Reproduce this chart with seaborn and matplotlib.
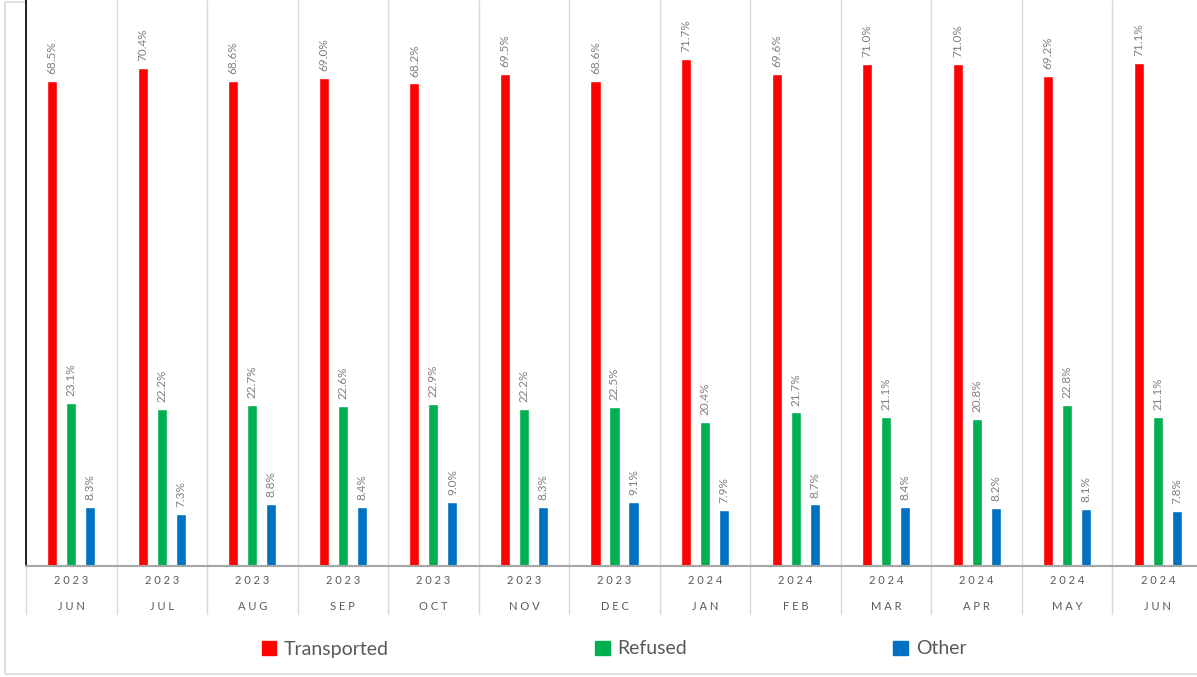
import matplotlib
matplotlib.use("Agg")
import matplotlib.pyplot as plt
import seaborn as sns
import pandas as pd
from matplotlib.patches import Rectangle, Patch
from matplotlib.transforms import blended_transform_factory

months = ["JUN", "JUL", "AUG", "SEP", "OCT", "NOV", "DEC", "JAN", "FEB", "MAR", "APR", "MAY", "JUN"]
years = ["2023"] * 7 + ["2024"] * 6
transported = [68.5, 70.4, 68.6, 69.0, 68.2, 69.5, 68.6, 71.7, 69.6, 71.0, 71.0, 69.2, 71.1]
refused = [23.1, 22.2, 22.7, 22.6, 22.9, 22.2, 22.5, 20.4, 21.7, 21.1, 20.8, 22.8, 21.1]
other = [8.3, 7.3, 8.8, 8.4, 9.0, 8.3, 9.1, 7.9, 8.7, 8.4, 8.2, 8.1, 7.8]
series_names = ["Transported", "Refused", "Other"]
colors = ["#FF0000", "#00B050", "#0070C0"]

keys = [f"{y}-{m}-{i}" for i, (y, m) in enumerate(zip(years, months))]
rows = []
for name, vals in zip(series_names, [transported, refused, other]):
    for k, v in zip(keys, vals):
        rows.append({"period": k, "series": name, "value": v})
df = pd.DataFrame(rows)

sns.set_theme(style="white")
plt.rcParams["font.family"] = ["Lato", "DejaVu Sans"]

fig = plt.figure(figsize=(11.97, 6.77), dpi=100)
W, H = 1197, 677
ax = fig.add_axes([26 / W, (H - 566) / H, 1177 / W, 566 / H])

sns.barplot(data=df, x="period", y="value", hue="series", order=keys,
            hue_order=series_names, palette=colors, width=0.63, gap=0.47,
            ax=ax, legend=False, saturation=1)

ax.set_ylim(0, 80)
ax.set_xlim(-0.5, len(keys) - 0.5)
ax.set_xlabel("")
ax.set_ylabel("")
ax.set_xticks([])
ax.set_yticks([])
for s in ["top", "right"]:
    ax.spines[s].set_visible(False)
ax.spines["left"].set_color("black")
ax.spines["left"].set_linewidth(1.2)
ax.spines["bottom"].set_color("#a6a6a6")
ax.spines["bottom"].set_linewidth(1.5)

for c in ax.containers:
    ax.bar_label(c, labels=[f"{v:.1f}%" for v in c.datavalues], rotation=90,
                 padding=5, fontsize=8.5, color="#7f7f7f")

# separators
for i in range(len(keys) + 1):
    ax.axvline(i - 0.5, ymin=-48 / 566, ymax=1, color="#d9d9d9", lw=1,
               clip_on=False, zorder=0)

trans = blended_transform_factory(ax.transData, ax.transAxes)
for i, (y, m) in enumerate(zip(years, months)):
    ax.text(i, -15 / 566, " ".join(y), transform=trans, ha="center", va="center",
            fontsize=8, color="#595959")
    ax.text(i, -40 / 566, " ".join(m), transform=trans, ha="center", va="center",
            fontsize=8, color="#595959")

# outer border
fig.patches.append(Rectangle((5 / W, 3 / H), 1.0, (H - 5) / H, transform=fig.transFigure,
                             fill=False, edgecolor="#d9d9d9", lw=1.2, zorder=-1))

handles = [Patch(facecolor=c, edgecolor=c) for c in colors]
fig.legend(handles, series_names, loc="center", bbox_to_anchor=(614 / W, 1 - 649 / H),
           ncol=3, frameon=False, fontsize=14, handlelength=0.75, handleheight=0.75,
           handletextpad=0.4, columnspacing=10.6, labelcolor="#595959")

fig.savefig("out.png", dpi=100)
